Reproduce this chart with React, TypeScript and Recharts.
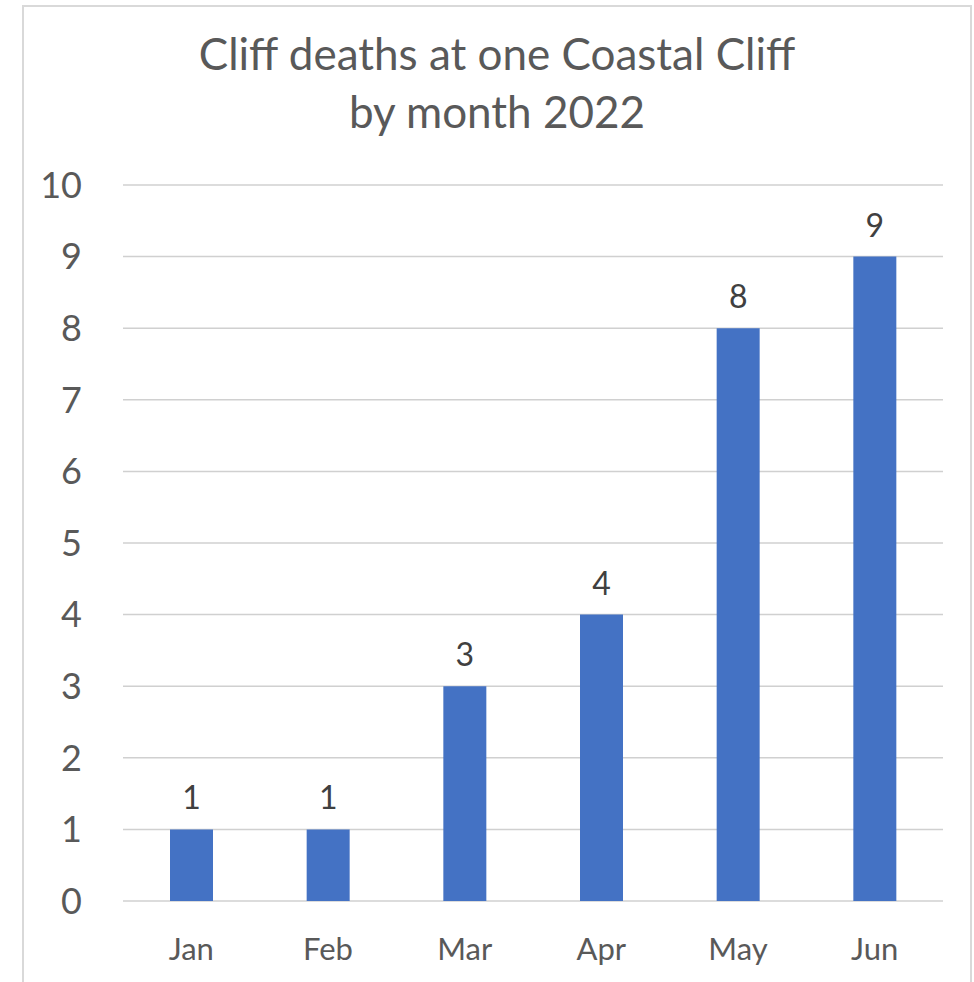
import React from 'react';
import { BarChart, Bar, XAxis, YAxis, CartesianGrid, LabelList } from 'recharts';

const months = ['Jan', 'Feb', 'Mar', 'Apr', 'May', 'Jun'];
const deaths = [1, 1, 3, 4, 8, 9];
const yTicks = [0, 1, 2, 3, 4, 5, 6, 7, 8, 9, 10];
const titleLines = ['Cliff deaths at one Coastal Cliff', 'by month 2022'];

const data = months.map((m, i) => ({ month: m, deaths: deaths[i] }));

const FONT = 'Lato, "Open Sans", sans-serif';
const TEXT = '#595959';

export default function App() {
  return (
    <div style={{ position: 'absolute', left: 0, top: 0, width: 974, height: 982, background: '#fff', overflow: 'hidden', fontFamily: FONT }}>
      <div style={{ position: 'absolute', left: 22, top: 5, width: 946, height: 990, border: '2px solid #d9d9d9' }} />
      <div style={{ position: 'absolute', left: 22, top: 24, width: 950, textAlign: 'center', color: TEXT, fontSize: 44, lineHeight: '58px' }}>
        {titleLines.map((t) => (
          <div key={t}>{t}</div>
        ))}
      </div>
      <div style={{ position: 'absolute', left: 0, top: 0 }}>
        <BarChart width={974} height={982} data={data} margin={{ top: 185, right: 31, left: 0, bottom: 0 }}>
          <CartesianGrid vertical={false} stroke="#d0d0d0" strokeWidth={1.5} />
          <XAxis
            dataKey="month"
            height={81}
            axisLine={false}
            tickLine={false}
            tickMargin={31}
            tick={{ fontSize: 31, fill: TEXT, fontFamily: FONT }}
          />
          <YAxis
            width={123}
            domain={[0, 10]}
            ticks={yTicks}
            interval={0}
            axisLine={false}
            tickLine={false}
            tickMargin={35}
            tick={{ fontSize: 36, fill: TEXT, fontFamily: FONT }}
          />
          <Bar dataKey="deaths" fill="#4472C4" barSize={43} isAnimationActive={false}>
            <LabelList dataKey="deaths" position="top" offset={20} fill="#404040" fontSize={32} fontFamily={FONT} />
          </Bar>
        </BarChart>
      </div>
    </div>
  );
}
